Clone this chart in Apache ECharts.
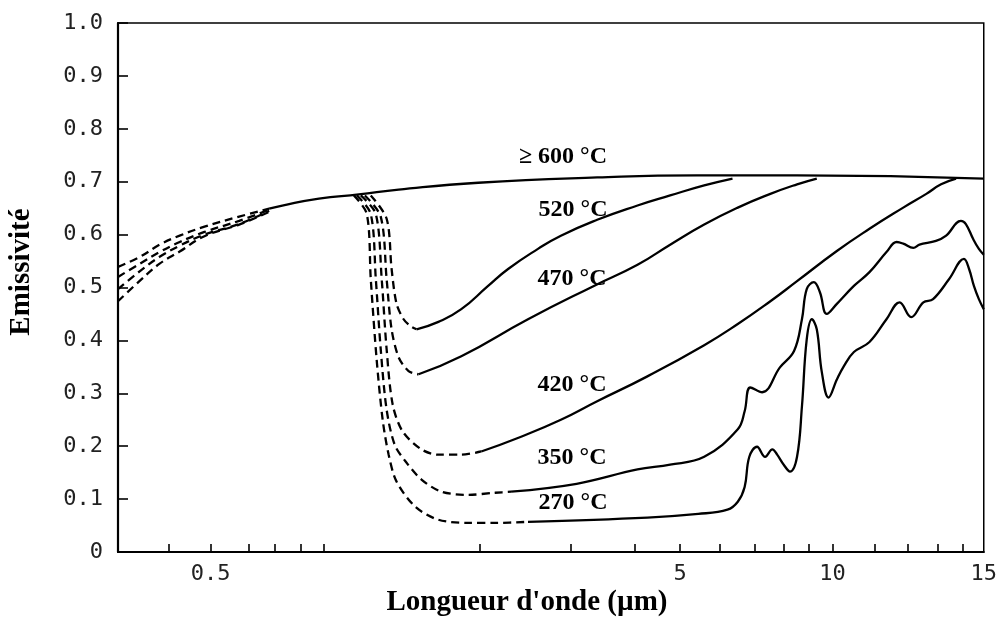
<!DOCTYPE html>
<html><head><meta charset="utf-8">
<script src="https://cdn.jsdelivr.net/npm/echarts@6/dist/echarts.min.js"></script>
<style>html,body{margin:0;padding:0;background:#fff}#c{width:1000px;height:617px}</style>
</head><body><div id="c"></div>
<script>
// ---------- Axis definition (the original x axis is a non-uniform, hand-drawn scale) ----------
const warpLambda = [0.305,0.4,0.5,0.6,0.7,0.8,0.9,1,2,3,4,5,6,7,8,9,10,11,12,13,14,15];
const warpStop   = [0,51,93,131,158,184,207,229,364,455,519,565,605,640,669,694,718,760,794,824,849,870];
const xTickValues  = [0.4,0.5,0.6,0.7,0.8,0.9,2,3,4,5,6,7,8,9,10,11,12,13,14];
const xLabelValues = [0.5,5,10,15];
const xLabelTexts  = ['0.5','5','10','15'];
const yTickLabels  = ['0','0.1','0.2','0.3','0.4','0.5','0.6','0.7','0.8','0.9','1.0'];
const xTitle = "Longueur d'onde (\u00b5m)";
const yTitle = 'Emissivit\u00e9';

// ---------- Data (wavelength µm, emissivity) ----------
// short-wavelength dashed branches
const lamShort   = [0.305,0.343,0.381,0.424,0.484,0.574,0.676];
const emisShortA = [0.539,0.558,0.581,0.598,0.615,0.634,0.649];
const emisShortB = [0.520,0.545,0.567,0.586,0.605,0.626,0.647];
const emisShortC = [0.497,0.531,0.558,0.579,0.600,0.620,0.645];
const emisShortD = [0.474,0.513,0.545,0.568,0.597,0.619,0.643];
// >= 600 °C envelope
const lam600  = [0.676,0.726,0.877,1.069,1.313,1.98,3.38,5.40,8.52,15];
const emis600 = [0.649,0.655,0.668,0.676,0.685,0.698,0.708,0.712,0.712,0.706];
// 520 °C
const lam520Dash  = [1.137,1.234,1.266,1.299,1.347,1.396,1.44];
const emis520Dash = [0.674,0.630,0.535,0.469,0.440,0.427,0.421];
const lam520  = [1.44,1.612,1.814,2.072,2.266,2.59,2.87,3.38,4.06,4.76,5.58,6.34];
const emis520 = [0.421,0.435,0.459,0.503,0.535,0.573,0.598,0.628,0.655,0.674,0.693,0.706];
// 470 °C
const lam470Dash  = [1.103,1.197,1.234,1.266,1.313,1.382,1.455];
const emis470Dash = [0.674,0.634,0.516,0.421,0.368,0.342,0.336];
const lam470  = [1.455,1.814,2.477,3.33,4.06,4.76,5.58,6.49,7.52,8.52,9.33];
const emis470 = [0.336,0.370,0.440,0.503,0.543,0.581,0.619,0.651,0.677,0.695,0.706];
// 420 °C
const lam420Dash  = [1.08,1.167,1.203,1.234,1.273,1.34,1.477,1.612,1.814,2.009];
const emis420Dash = [0.674,0.639,0.516,0.383,0.279,0.228,0.194,0.184,0.184,0.190];
const lam420  = [2.009,2.374,2.87,3.38,4.26,5.58,6.49,7.52,8.52,10.1,10.88,11.85,12.6,13.12,13.72];
const emis420 = [0.190,0.216,0.250,0.285,0.332,0.391,0.431,0.474,0.512,0.569,0.611,0.651,0.677,0.695,0.706];
// 350 °C
const lam350Dash  = [1.058,1.137,1.167,1.197,1.234,1.286,1.361,1.477,1.637,1.88,2.138,2.296];
const emis350Dash = [0.674,0.639,0.516,0.383,0.269,0.203,0.171,0.137,0.114,0.108,0.112,0.114];
const lam350  = [2.296,3.08,4.06,4.76,5.58,6.49,6.69,6.86,7.24,7.86,8.4,8.72,8.92,9.21,9.46,9.75,10.1,10.5,10.88,11.35,11.65,11.85,12.17,12.37,12.93,13.32,13.92,14.14,14.48,14.76,15];
const emis350 = [0.114,0.129,0.156,0.165,0.180,0.232,0.266,0.311,0.302,0.349,0.380,0.440,0.497,0.510,0.491,0.450,0.469,0.503,0.529,0.567,0.586,0.583,0.575,0.581,0.588,0.598,0.626,0.620,0.592,0.573,0.562];
// 270 °C
const lam270Dash  = [1.042,1.114,1.137,1.172,1.209,1.247,1.299,1.433,1.612,1.88,2.138,2.477];
const emis270Dash = [0.674,0.639,0.516,0.364,0.250,0.184,0.133,0.085,0.061,0.055,0.055,0.057];
const lam270  = [2.477,4.26,5.43,6.2,6.49,6.69,6.83,7.07,7.34,7.59,7.76,8.0,8.24,8.52,8.72,8.92,9.13,9.33,9.54,9.83,10.1,10.26,10.5,10.88,11.35,11.74,12.1,12.5,12.83,13.44,14.05,14.29,14.52,14.76,15];
const emis270 = [0.057,0.065,0.072,0.080,0.095,0.123,0.180,0.199,0.180,0.194,0.184,0.165,0.152,0.180,0.275,0.402,0.440,0.421,0.340,0.292,0.326,0.351,0.378,0.397,0.440,0.472,0.444,0.472,0.478,0.516,0.554,0.535,0.503,0.478,0.459];

const curveLabels = ['\u2265 600 \u00b0C','520 \u00b0C','470 \u00b0C','420 \u00b0C','350 \u00b0C','270 \u00b0C'];

// ---------- scale warp ----------
function pos(l){
  for (let i=0;i<warpLambda.length-1;i++){
    if (l<=warpLambda[i+1] || i===warpLambda.length-2){
      const a=Math.log(warpLambda[i]), b=Math.log(warpLambda[i+1]);
      const t=(Math.log(l)-a)/(b-a);
      return warpStop[i]+t*(warpStop[i+1]-warpStop[i]);
    }
  }
}
function pairs(lam, em){ return lam.map((l,i)=>[pos(l), em[i]]); }

const solid  = {color:'#000', width:2.3};
const dashed = {color:'#000', width:2.3, type:[8,5]};
function mk(name, lam, em, style, sm){
  return {type:'line', name, data:pairs(lam,em), showSymbol:false, symbol:'none',
    smooth:sm, lineStyle:style, silent:true, z:3};
}

const series = [
  mk('a', lamShort, emisShortA, dashed, 0.4),
  mk('b', lamShort, emisShortB, dashed, 0.4),
  mk('c', lamShort, emisShortC, dashed, 0.4),
  mk('d', lamShort, emisShortD, dashed, 0.4),
  mk('600', lam600, emis600, solid, 0.5),
  mk('520d', lam520Dash, emis520Dash, dashed, 0.3),
  mk('520', lam520, emis520, solid, 0.5),
  mk('470d', lam470Dash, emis470Dash, dashed, 0.3),
  mk('470', lam470, emis470, solid, 0.5),
  mk('420d', lam420Dash, emis420Dash, dashed, 0.3),
  mk('420', lam420, emis420, solid, 0.5),
  mk('350d', lam350Dash, emis350Dash, dashed, 0.3),
  mk('350', lam350, emis350, solid, 0.4),
  mk('270d', lam270Dash, emis270Dash, dashed, 0.3),
  mk('270', lam270, emis270, solid, 0.4)
];

const serifBold = '"Liberation Serif", "Times New Roman", serif';
const labelPos = [[563,157],[573,210],[572,279],[572,385],[572,458],[573,503]];
const graphic = curveLabels.map((t,i)=>({type:'text', x:labelPos[i][0], y:labelPos[i][1], z:10,
  style:{text:t, textAlign:'center', textVerticalAlign:'middle', fill:'#000',
    font:'bold 24px ' + serifBold}}));
graphic.push({type:'text', x:527, y:603, z:10,
  style:{text:xTitle, textAlign:'center', textVerticalAlign:'middle', fill:'#000', font:'bold 29px ' + serifBold}});
graphic.push({type:'text', x:22, y:272, rotation:Math.PI/2, z:10,
  style:{text:yTitle, textAlign:'center', textVerticalAlign:'middle', fill:'#000', font:'bold 29px ' + serifBold}});

const labelPositions = xLabelValues.map(pos);
const tickFont = '"DejaVu Sans Mono", monospace';
const chart = echarts.init(document.getElementById('c'), null, {renderer:'canvas'});
chart.setOption({
  animation:false,
  backgroundColor:'#fff',
  grid:{left:118, right:12, top:23, bottom:65, show:true, borderColor:'#000', borderWidth:1.5, backgroundColor:'transparent'},
  xAxis:{type:'value', min:0, max:870,
    axisLine:{show:true, lineStyle:{color:'#000', width:2.2}},
    axisTick:{show:true, inside:true, length:8, customValues:xTickValues.map(pos), lineStyle:{color:'#000', width:1.6}},
    axisLabel:{show:true, customValues:labelPositions, margin:11, color:'#222',
      fontFamily:tickFont, fontSize:22,
      formatter:function(v){ let bi=0, bd=1e9; labelPositions.forEach((p,i)=>{const d=Math.abs(p-v); if(d<bd){bd=d;bi=i;}}); return xLabelTexts[bi]; }},
    splitLine:{show:false}
  },
  yAxis:{type:'value', min:0, max:1, interval:0.1,
    axisLine:{show:true, lineStyle:{color:'#000', width:2.2}},
    axisTick:{show:true, inside:true, length:10, lineStyle:{color:'#000', width:1.6}},
    axisLabel:{margin:15, color:'#222', fontFamily:tickFont, fontSize:22,
      formatter:function(v){ return yTickLabels[Math.round(v*10)]; }},
    splitLine:{show:false}
  },
  series:series,
  graphic:graphic
});
</script></body></html>
